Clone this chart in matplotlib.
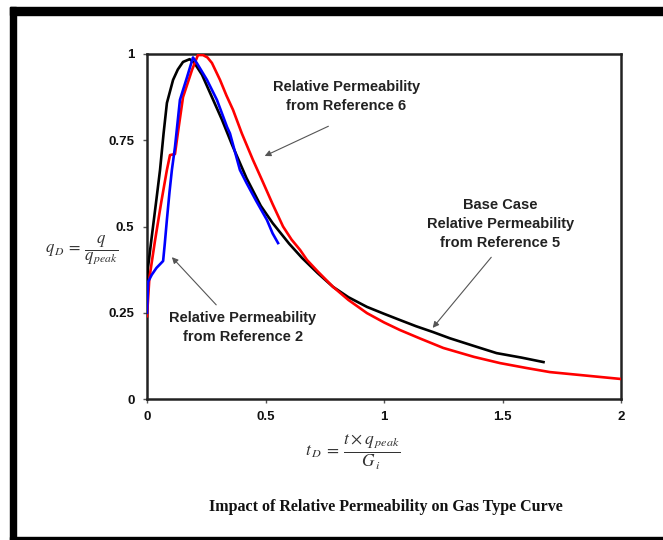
import matplotlib
matplotlib.use("Agg")
import matplotlib.pyplot as plt
from matplotlib.patches import Rectangle

# ---- data ----
base_x = [0.0, 0.004, 0.02, 0.04, 0.055, 0.07, 0.084, 0.11, 0.13, 0.152, 0.18, 0.2, 0.232, 0.274,
          0.316, 0.36, 0.42, 0.48, 0.53, 0.6, 0.654, 0.72, 0.785, 0.85, 0.928, 1.0, 1.067,
          1.135, 1.207, 1.278, 1.392, 1.475, 1.58, 1.673]
base_y = [0.30, 0.38, 0.47, 0.58, 0.664, 0.77, 0.858, 0.925, 0.955, 0.977, 0.985, 0.974, 0.94, 0.875,
          0.81, 0.735, 0.64, 0.56, 0.51, 0.45, 0.409, 0.365, 0.325, 0.295, 0.267, 0.247, 0.229,
          0.211, 0.194, 0.176, 0.151, 0.133, 0.12, 0.107]

ref2_x = [0.0, 0.005, 0.02, 0.04, 0.068, 0.075, 0.084, 0.095, 0.105, 0.118, 0.139, 0.169, 0.194,
          0.21, 0.253, 0.295, 0.338, 0.35, 0.392, 0.42, 0.46, 0.506, 0.53, 0.553]
ref2_y = [0.25, 0.34, 0.36, 0.38, 0.40, 0.45, 0.52, 0.60, 0.664, 0.73, 0.867, 0.933, 0.99,
          0.974, 0.925, 0.867, 0.788, 0.77, 0.664, 0.626, 0.575, 0.519, 0.48, 0.452]

ref6_x = [0.0, 0.01, 0.034, 0.06, 0.084, 0.097, 0.118, 0.13, 0.152, 0.19, 0.215, 0.236, 0.255,
          0.274, 0.308, 0.335, 0.363, 0.40, 0.447, 0.485, 0.53, 0.574, 0.61, 0.646, 0.675,
          0.72, 0.785, 0.85, 0.928, 1.0, 1.067, 1.15, 1.25, 1.38, 1.49, 1.60, 1.70, 1.85, 2.0]
ref6_y = [0.24, 0.35, 0.46, 0.57, 0.664, 0.707, 0.71, 0.77, 0.875, 0.954, 0.997, 0.997, 0.99,
          0.974, 0.925, 0.88, 0.838, 0.77, 0.693, 0.635, 0.565, 0.50, 0.462, 0.432, 0.403,
          0.37, 0.325, 0.287, 0.249, 0.222, 0.20, 0.176, 0.148, 0.122, 0.104, 0.09, 0.078,
          0.068, 0.058]

x_ticks = [0, 0.5, 1, 1.5, 2]
x_tick_labels = ["0", "0.5", "1", "1.5", "2"]
y_ticks = [0, 0.25, 0.5, 0.75, 1]
y_tick_labels = ["0", "0.25", "0.5", "0.75", "1"]

plt.rcParams["mathtext.fontset"] = "stix"

W, H = 663, 540
fig = plt.figure(figsize=(W / 100, H / 100), dpi=100)
fig.patch.set_facecolor("white")

# black frame
fig.patches.append(Rectangle((10 / W, 0), 6 / W, 1 - 7 / H, transform=fig.transFigure,
                             color="black", zorder=0))
fig.patches.append(Rectangle((10 / W, 1 - 15 / H), 1 - 10 / W, 8 / H, transform=fig.transFigure,
                             color="black", zorder=0))
fig.patches.append(Rectangle((10 / W, 0), 1 - 10 / W, 3 / H, transform=fig.transFigure,
                             color="black", zorder=0))

ax = fig.add_axes([147 / W, 1 - 399 / H, (621 - 147) / W, (399 - 54) / H])
ax.plot(base_x, base_y, color="black", lw=1.9, zorder=3)
ax.plot(ref6_x, ref6_y, color="#ff0000", lw=1.9, zorder=4)
ax.plot(ref2_x, ref2_y, color="#0000ff", lw=1.9, zorder=5)

ax.set_xlim(0, 2)
ax.set_ylim(0, 1)
ax.set_xticks(x_ticks)
ax.set_xticklabels(x_tick_labels)
ax.set_yticks(y_ticks)
ax.set_yticklabels(y_tick_labels)
for s in ax.spines.values():
    s.set_linewidth(1.8)
    s.set_color("#222222")
ax.tick_params(direction="out", length=3, width=1, color="#555555", pad=6)
for lab in ax.get_xticklabels() + ax.get_yticklabels():
    lab.set_fontfamily("Liberation Sans")
    lab.set_fontweight("bold")
    lab.set_fontsize(9.5)
    lab.set_color("#111111")

font = dict(family="Liberation Sans", fontweight="bold", fontsize=10.5, color="#222222",
            ha="center", va="center", linespacing=1.45)
arrow = dict(arrowstyle="-|>", color="#555555", lw=0.8, mutation_scale=9)

ax.text(0.84, 0.876, "Relative Permeability\nfrom Reference 6", **font)
ax.annotate("", xy=(0.486, 0.701), xytext=(0.776, 0.794), arrowprops=arrow)

ax.text(1.49, 0.507, "Base Case\nRelative Permeability\nfrom Reference 5", **font)
ax.annotate("", xy=(1.198, 0.200), xytext=(1.46, 0.417), arrowprops=arrow)

ax.text(0.405, 0.207, "Relative Permeability\nfrom Reference 2", **font)
ax.annotate("", xy=(0.097, 0.417), xytext=(0.30, 0.267), arrowprops=arrow)

# axis formula labels
fig.text(82 / W, 1 - 250 / H, r"$q_{\,D}\,=\,\dfrac{q}{q_{\,peak}}$", ha="center", va="center",
         fontsize=12, color="#333333")
fig.text(353 / W, 1 - 452 / H, r"$t_{\,D}\;=\,\dfrac{t\times q_{\,peak}}{G_{\,i}}$", ha="center",
         va="center", fontsize=12.5, color="#333333")

fig.text(386 / W, 1 - 507 / H, "Impact of Relative Permeability on Gas Type Curve",
         family="Liberation Serif", fontweight="bold", fontsize=11.5, ha="center", va="center",
         color="#111111")

fig.savefig("out.png", dpi=100)
